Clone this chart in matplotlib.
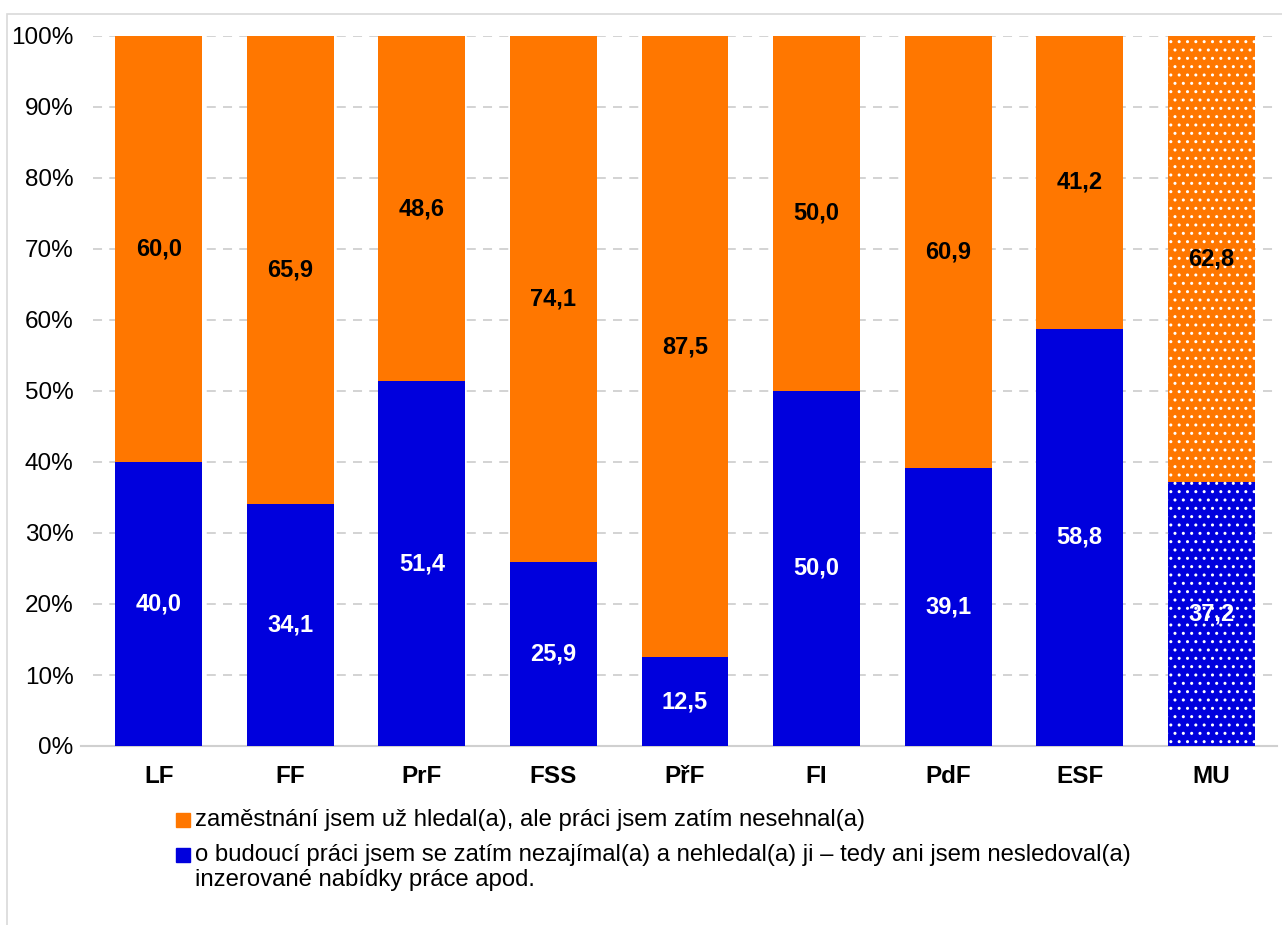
import matplotlib.pyplot as plt
from matplotlib.patches import Rectangle

# data
faculties = ["LF", "FF", "PrF", "FSS", "PřF", "FI", "PdF", "ESF", "MU"]
nezajimal = [40.0, 34.1, 51.4, 25.9, 12.5, 50.0, 39.1, 58.8, 37.2]
hledal = [60.0, 65.9, 48.6, 74.1, 87.5, 50.0, 60.9, 41.2, 62.8]
yticks = [0, 10, 20, 30, 40, 50, 60, 70, 80, 90, 100]

label_hledal = "zaměstnání jsem už hledal(a), ale práci jsem zatím nesehnal(a)"
label_nezajimal = ("o budoucí práci jsem se zatím nezajímal(a) a nehledal(a) ji – tedy ani jsem nesledoval(a)\n"
                   "inzerované nabídky práce apod.")

ORANGE = "#FF7700"
BLUE = "#0000DD"
W, H = 1282, 925

plt.rcParams['font.family'] = ['Arial', 'Liberation Sans', 'DejaVu Sans']
plt.rcParams['hatch.color'] = 'white'
plt.rcParams['hatch.linewidth'] = 1.0

fig = plt.figure(figsize=(W / 100, H / 100), dpi=100)
ax = fig.add_axes([93 / W, 1 - 746 / H, (1277 - 93) / W, 710 / H])

# outer chart frame
fig.patches.append(Rectangle((7 / W, -0.01), 1.1, 1 - 14 / H + 0.01,
                             transform=fig.transFigure, fill=False,
                             edgecolor="#D9D9D9", linewidth=1.2))

x = list(range(len(faculties)))
width = 0.66
for i in x:
    hatch = '..' if faculties[i] == "MU" else None
    ax.bar(i, nezajimal[i], width, color=BLUE, hatch=hatch, linewidth=0, zorder=3)
    ax.bar(i, hledal[i], width, bottom=nezajimal[i], color=ORANGE, hatch=hatch,
           linewidth=0, zorder=3)
    ax.text(i, nezajimal[i] / 2, f"{nezajimal[i]:.1f}".replace(".", ","),
            ha="center", va="center", color="white", fontsize=17, fontweight="bold", zorder=4)
    ax.text(i, nezajimal[i] + hledal[i] / 2, f"{hledal[i]:.1f}".replace(".", ","),
            ha="center", va="center", color="black", fontsize=17, fontweight="bold", zorder=4)

ax.set_xlim(-0.5, len(faculties) - 0.5)
ax.set_ylim(0, 100)
ax.set_yticks(yticks)
ax.set_yticklabels([f"{t}%" for t in yticks], fontsize=17.5)
ax.set_xticks(x)
ax.set_xticklabels(faculties, fontsize=17.5, fontweight="bold")
ax.tick_params(axis="both", length=0)
ax.tick_params(axis="y", pad=14)
ax.tick_params(axis="x", pad=14)

for t in yticks[1:]:
    ax.axhline(t, color="#D0D0D0", linestyle=(0, (5, 4)), linewidth=1.3, zorder=1)
ax.axhline(0, xmin=-0.01, color="#D0D0D0", linewidth=1.5, zorder=2, clip_on=False)

for s in ax.spines.values():
    s.set_visible(False)

# legend drawn by hand: square aligned with first text line
legend_items = [(ORANGE, label_hledal, 820), (BLUE, label_nezajimal, 855)]
for color, label, ypix in legend_items:
    fig.patches.append(Rectangle((176 / W, 1 - (ypix + 7) / H), 14 / W, 14 / H,
                                 transform=fig.transFigure, color=color))
    for k, line in enumerate(label.split("\n")):
        fig.text(195 / W, 1 - (ypix + 25 * k) / H, line, fontsize=17.2,
                 ha="left", va="center")

fig.savefig("out.png", dpi=100)
